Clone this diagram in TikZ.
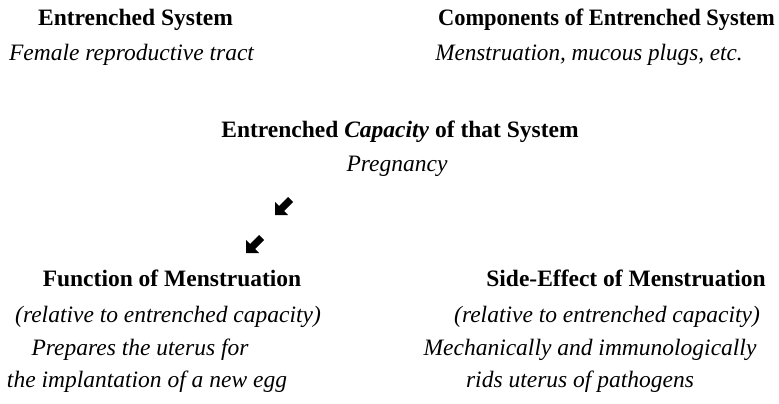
\documentclass[tikz,border=0pt]{standalone}
\usepackage{fontspec}
\setmainfont{Liberation Serif}
\begin{document}
\begin{tikzpicture}[x=1pt,y=-1pt,
  txt/.style={anchor=base,inner sep=0pt,font=\fontsize{23.5}{28}\selectfont},
  hd/.style={txt,font=\fontsize{23.5}{28}\selectfont\bfseries},
  it/.style={txt,font=\fontsize{23.5}{28}\selectfont\itshape},
  sarrow/.pic={\fill[black] (0,0) -- (13,0) -- (9,-4) -- (18,-13) -- (13,-18) -- (4,-9) -- (0,-13) -- cycle;}]
\useasboundingbox (0,0) rectangle (779,404);
\node[hd] (es) at (135.5,26) {Entrenched System};
\node[hd] (ces) at (606.5,26) {\scalebox{0.955}[1]{Components of Entrenched System}};
\node[it] (frt) at (131.5,60) {Female reproductive tract};
\node[it] (mmp) at (589,60) {\scalebox{0.985}[1]{Menstruation, mucous plugs, etc.}};
\node[hd] (cap) at (400,137) {Entrenched \textit{Capacity} of that System};
\node[it] (preg) at (397,171) {Pregnancy};
\pic (a1) at (275,215) {sarrow};
\pic (a2) at (246,253) {sarrow};
\node[hd] (fm) at (172,286) {Function of Menstruation};
\node[it] (fr) at (168,322) {(relative to entrenched capacity)};
\node[it] (f1) at (140,355) {Prepares the uterus for};
\node[it] (f2) at (147,387) {the implantation of a new egg};
\node[hd] (sm) at (626,286) {Side-Effect of Menstruation};
\node[it] (sr) at (607,322) {(relative to entrenched capacity)};
\node[it] (s1) at (590,355) {Mechanically and immunologically};
\node[it] (s2) at (580,387) {rids uterus of pathogens};
\end{tikzpicture}
\end{document}
